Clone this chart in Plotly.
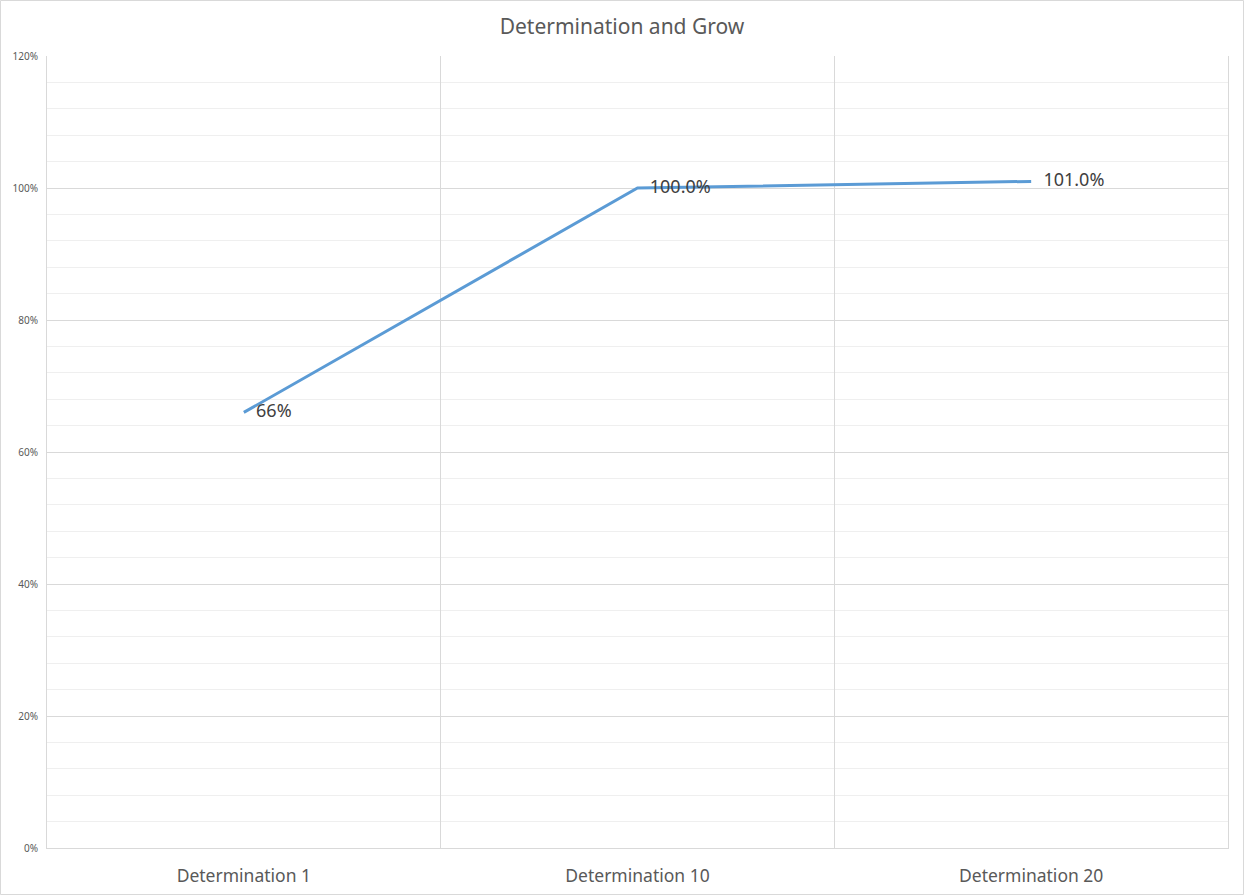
import plotly.graph_objects as go

categories = ["Determination 1", "Determination 10", "Determination 20"]
values = [0.66, 1.00, 1.01]
labels = ["66%", "100.0%", "101.0%"]
title = "Determination and Grow"

W, H = 1244, 895
L, R, T, B = 47, 16, 56, 47
pw, ph = W - L - R, H - T - B

fig = go.Figure()
fig.add_trace(go.Scatter(
    x=categories, y=values, text=labels,
    mode="lines+markers+text",
    line=dict(color="#5B9BD5", width=3),
    marker=dict(size=18, color="rgba(0,0,0,0)"),
    textposition="middle right",
    textfont=dict(size=18, color="#404040", family="Noto Sans"),
    cliponaxis=False,
    hoverinfo="skip",
))

fig.update_layout(
    width=W, height=H,
    margin=dict(l=L, r=R, t=T, b=B, autoexpand=False),
    paper_bgcolor="white", plot_bgcolor="white",
    showlegend=False,
    title=dict(text=title, x=0.5, xanchor="center", y=1 - 27 / H, yanchor="middle",
               font=dict(size=21, color="#595959", family="Noto Sans")),
    xaxis=dict(
        type="category", range=[-0.5, 2.5], tickson="boundaries",
        showgrid=True, gridcolor="#d9d9d9", gridwidth=1,
        showline=True, linecolor="#d9d9d9", mirror=False,
        ticks="", tickfont=dict(size=17.5, color="#595959", family="Noto Sans"),
        ticklabelstandoff=12, zeroline=False, automargin=False,
    ),
    yaxis=dict(
        range=[0, 1.2], dtick=0.2, tickformat=".0%",
        showgrid=True, gridcolor="#d9d9d9", gridwidth=1,
        minor=dict(dtick=0.04, showgrid=True, gridcolor="#efefef", gridwidth=1),
        showline=True, linecolor="#d9d9d9", mirror=True,
        ticks="", tickfont=dict(size=10, color="#595959", family="Noto Sans"),
        ticklabelstandoff=6, zeroline=False, automargin=False,
    ),
)

# outer chart border
fig.add_shape(type="rect", xref="paper", yref="paper",
              x0=(-L + 0.5) / pw, x1=1 + (R - 0.5) / pw,
              y0=(-B + 0.5) / ph, y1=1 + (T - 0.5) / ph,
              line=dict(color="#d9d9d9", width=1), fillcolor="rgba(0,0,0,0)", layer="below")

fig.write_html("out.html", config={"displayModeBar": False},
               post_script="document.body.style.margin='0';document.body.style.overflow='hidden';")
